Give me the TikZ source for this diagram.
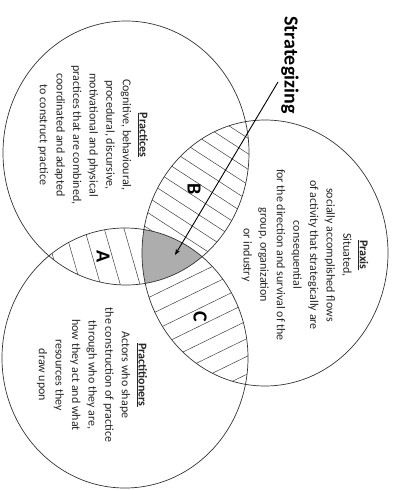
\documentclass[tikz,border=0pt]{standalone}
\usepackage{fontspec}
\setmainfont{Carlito}
\usetikzlibrary{arrows.meta}
\begin{document}
\begin{tikzpicture}[
        x=1pt, y=-1pt,
        ring/.style={draw=black!80, line width=0.7pt},
        hatch/.style={draw=black!75, line width=0.5pt},
        core/.style={fill=black!32},
        desc/.style={rotate=-90, align=center, text=black!85, font=\fontsize{12}{16.6}\selectfont},
        zone/.style={rotate=-90, font=\fontsize{20}{24}\selectfont\bfseries},
        arrow/.style={-{Stealth[length=6pt, width=4.5pt]}, line width=0.9pt}
    ]
        \useasboundingbox (0,0) rectangle (393,490);

        % Circle centres
        \coordinate (practices) at (126,153);
        \coordinate (praxis) at (265,253);
        \coordinate (practitioners) at (125,358);

        % Hatching B: practices and praxis
        \begin{scope}
            \clip (practices) ellipse [x radius=123pt, y radius=132pt];
            \clip (praxis) ellipse [x radius=123pt, y radius=133pt];
            \begin{scope}[shift={(194,189)}, rotate=-33]
                \foreach \k in {-14,...,14} \draw[hatch] (-220,\k*13+6) -- (220,\k*13+6);
            \end{scope}
        \end{scope}

        % Hatching C: praxis and practitioners
        \begin{scope}
            \clip (praxis) ellipse [x radius=123pt, y radius=133pt];
            \clip (practitioners) ellipse [x radius=123pt, y radius=130pt];
            \begin{scope}[shift={(200,317)}, rotate=26]
                \foreach \k in {-12,...,12} \draw[hatch] (-220,\k*16+8) -- (220,\k*16+8);
            \end{scope}
        \end{scope}

        % Hatching A: practices and practitioners
        \begin{scope}
            \clip (practices) ellipse [x radius=123pt, y radius=132pt];
            \clip (practitioners) ellipse [x radius=123pt, y radius=130pt];
            \begin{scope}[shift={(103,257)}, rotate=-74]
                \foreach \k in {-10,...,10} \draw[hatch] (-150,\k*19+10) -- (150,\k*19+10);
            \end{scope}
        \end{scope}

        % Core: all three
        \begin{scope}
            \clip (practices) ellipse [x radius=123pt, y radius=132pt];
            \clip (practitioners) ellipse [x radius=123pt, y radius=130pt];
            \fill[core] (praxis) ellipse [x radius=123pt, y radius=133pt];
        \end{scope}

        % Circles
        \draw[ring] (practices) ellipse [x radius=123pt, y radius=132pt];
        \draw[ring] (praxis) ellipse [x radius=123pt, y radius=133pt];
        \draw[ring] (practitioners) ellipse [x radius=123pt, y radius=130pt];

        % Texts
        \node[desc] (practices_txt) at (93,135) {\underline{\textbf{Practices}}\\Cognitive, behavioural,\\procedural, discursive,\\motivational and physical\\practices that are combined,\\coordinated and adapted\\to construct practice};
        \node[desc] (praxis_txt) at (305,255) {\underline{\textbf{Praxis}}\\Situated,\\socially accomplished flows\\of activity that strategically are\\consequential\\for the direction and survival of the\\group, organization\\or industry};
        \node[desc] (practitioners_txt) at (92,375) {\underline{\textbf{Practitioners}}\\Actors who shape\\the construction of practice\\through who they are,\\how they act and what\\resources they\\draw upon};

        % Zone letters
        \node[zone] (zone_a) at (103,257) {A};
        \node[zone] (zone_b) at (194,189) {B};
        \node[zone] (zone_c) at (200,317) {C};

        % Strategizing
        \node[zone] (strategizing) at (290,65) {Strategizing};
        \coordinate (strat_from) at (278,82);
        \coordinate (strat_aim) at (175,255);
        \draw[arrow] (strat_from) -- (strat_aim);
    \end{tikzpicture}
\end{document}
